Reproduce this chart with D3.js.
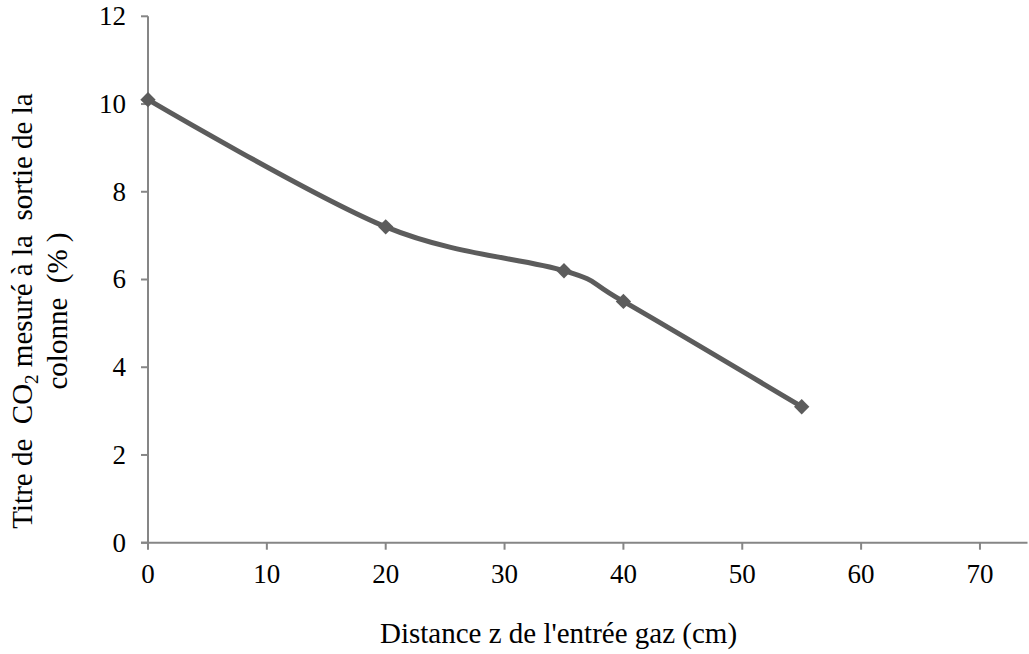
<!DOCTYPE html>
<html>
<head>
<meta charset="utf-8">
<script src="https://cdn.jsdelivr.net/npm/d3@7"></script>
<style>
  body { margin: 0; background: #fff; }
  text { font-family: "Liberation Serif", "Times New Roman", serif; fill: #000; }
</style>
</head>
<body>
<div id="chart"></div>
<script>
// distance depuis l'entrée gaz (cm) et titre de CO2 (%)
const distances = [0, 20, 35, 40, 55];
const co2 = [10.1, 7.2, 6.2, 5.5, 3.1];
const xTicks = [0, 10, 20, 30, 40, 50, 60, 70];
const yTicks = [0, 2, 4, 6, 8, 10, 12];

const width = 1029, height = 654;
const svg = d3.select("#chart").append("svg")
  .attr("width", width)
  .attr("height", height);

const x = d3.scaleLinear().domain([0, 74]).range([148, 1027.5]);
const y = d3.scaleLinear().domain([0, 12]).range([542.7, 16.3]);

const axisColor = "#868686";

// axe Y
svg.append("line")
  .attr("x1", x(0)).attr("x2", x(0))
  .attr("y1", y(12)).attr("y2", y(0))
  .attr("stroke", axisColor).attr("stroke-width", 2);
svg.selectAll(".ytick")
  .data(yTicks)
  .enter().append("line")
  .attr("x1", x(0) - 7).attr("x2", x(0))
  .attr("y1", d => y(d)).attr("y2", d => y(d))
  .attr("stroke", axisColor).attr("stroke-width", 2);
svg.selectAll(".ylab")
  .data(yTicks)
  .enter().append("text")
  .attr("x", 126)
  .attr("y", d => y(d))
  .attr("dy", "0.33em")
  .attr("text-anchor", "end")
  .attr("font-size", "27px")
  .text(d => d);

// axe X
svg.append("line")
  .attr("x1", x(0) - 7).attr("x2", x.range()[1])
  .attr("y1", y(0)).attr("y2", y(0))
  .attr("stroke", axisColor).attr("stroke-width", 2);
svg.selectAll(".xtick")
  .data(xTicks)
  .enter().append("line")
  .attr("x1", d => x(d)).attr("x2", d => x(d))
  .attr("y1", y(0)).attr("y2", y(0) + 7)
  .attr("stroke", axisColor).attr("stroke-width", 2);
svg.selectAll(".xlab")
  .data(xTicks)
  .enter().append("text")
  .attr("x", d => x(d))
  .attr("y", 583)
  .attr("text-anchor", "middle")
  .attr("font-size", "27px")
  .text(d => d);

// titres
svg.append("text")
  .attr("x", 380)
  .attr("y", 643)
  .attr("font-size", "29px")
  .text("Distance z de l'entrée gaz (cm)");

const yTitle = svg.append("g")
  .attr("transform", "translate(0,311) rotate(-90)");
const l1 = yTitle.append("text")
  .attr("x", 0).attr("y", 32)
  .attr("text-anchor", "middle")
  .attr("font-size", "29px")
  .attr("xml:space", "preserve");
l1.append("tspan").text("Titre de  CO");
l1.append("tspan").attr("font-size", "19px").attr("dy", 6).text("2");
l1.append("tspan").attr("dy", -6).text(" mesuré à la  sortie de la");
yTitle.append("text")
  .attr("x", 0).attr("y", 67)
  .attr("text-anchor", "middle")
  .attr("font-size", "29px")
  .attr("xml:space", "preserve")
  .text("colonne  (% )");

// courbe lissée
const pts = distances.map((d, i) => [d, co2[i]]);
const line = d3.line()
  .x(d => x(d[0]))
  .y(d => y(d[1]))
  .curve(d3.curveCardinal.tension(0));

svg.append("path")
  .datum(pts)
  .attr("d", line)
  .attr("fill", "none")
  .attr("stroke", "#5c5c5c")
  .attr("stroke-width", 5)
  .attr("stroke-linejoin", "round");

svg.selectAll(".pt")
  .data(pts)
  .enter().append("path")
  .attr("d", d3.symbol().type(d3.symbolDiamond2).size(150))
  .attr("transform", d => `translate(${x(d[0])},${y(d[1])})`)
  .attr("fill", "#5c5c5c");
</script>
</body>
</html>
